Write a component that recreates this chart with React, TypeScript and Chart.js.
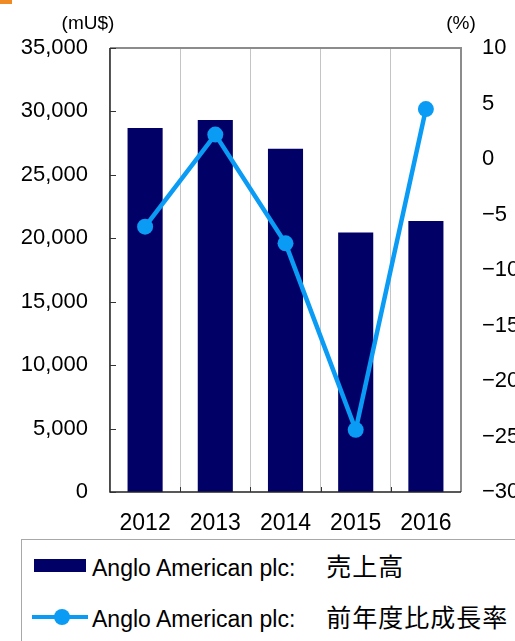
import React, { useEffect, useRef } from "react";
import { Chart, registerables } from "chart.js";

Chart.register(...registerables);

const categories = ["2012", "2013", "2014", "2015", "2016"];
const salesValues = [28700, 29330, 27050, 20450, 21370];
const growthValues = [-6.1, 2.2, -7.6, -24.4, 4.5];
const salesLabelLatin = "Anglo American plc:";
const salesLabelJa = "売上高";
const growthLabelJa = "前年度比成長率";
const leftUnit = "(mU$)";
const rightUnit = "(%)";
const leftAxis = { min: 0, max: 35000, step: 5000 };
const rightAxis = { min: -30, max: 10, step: 5 };

const BAR_COLOR = "#000066";
const LINE_COLOR = "#0A9BF5";
const FONT = "'Liberation Sans', Arial, 'Noto Sans CJK JP', sans-serif";

const framePlugin = {
  id: "frame",
  afterDraw(chart: any) {
    const { ctx, chartArea } = chart;
    const { left, right, top, bottom } = chartArea;
    const y = chart.scales.y;
    const x = chart.scales.x;
    ctx.save();
    ctx.lineWidth = 2;
    ctx.strokeStyle = "#8c8c8c";
    ctx.beginPath();
    ctx.moveTo(left, top);
    ctx.lineTo(right, top);
    ctx.lineTo(right, bottom);
    ctx.stroke();
    ctx.strokeStyle = "#222222";
    ctx.lineWidth = 1.5;
    ctx.beginPath();
    ctx.moveTo(left, top);
    ctx.lineTo(left, bottom);
    ctx.lineTo(right, bottom);
    ctx.stroke();
    ctx.lineWidth = 1;
    ctx.strokeStyle = "#333333";
    ctx.beginPath();
    for (let v = leftAxis.min; v <= leftAxis.max; v += leftAxis.step) {
      const py = Math.round(y.getPixelForValue(v)) + 0.5;
      ctx.moveTo(left, py);
      ctx.lineTo(left + 6, py);
    }
    const n = categories.length;
    for (let i = 1; i < n; i++) {
      const px = Math.round((x.getPixelForValue(i - 1) + x.getPixelForValue(i)) / 2) + 0.5;
      ctx.moveTo(px, bottom);
      ctx.lineTo(px, bottom - 5);
    }
    ctx.stroke();
    ctx.fillStyle = "#000";
    ctx.font = "19px 'Liberation Sans', Arial, sans-serif";
    ctx.textBaseline = "middle";
    ctx.textAlign = "center";
    ctx.fillText(leftUnit, 88, 24);
    ctx.fillText(rightUnit, 461, 24);
    ctx.restore();
  },
};

export default function App() {
  const ref = useRef<HTMLCanvasElement>(null);
  useEffect(() => {
    if (!ref.current) return;
    const chart = new Chart(ref.current, {
      type: "bar",
      data: {
        labels: categories,
        datasets: [
          {
            type: "line",
            label: salesLabelLatin + " " + growthLabelJa,
            data: growthValues,
            yAxisID: "y1",
            borderColor: LINE_COLOR,
            backgroundColor: LINE_COLOR,
            borderWidth: 4.5,
            pointRadius: 8,
            pointBackgroundColor: LINE_COLOR,
            pointBorderWidth: 0,
            tension: 0,
            order: 0,
          } as any,
          {
            type: "bar",
            label: salesLabelLatin + " " + salesLabelJa,
            data: salesValues,
            yAxisID: "y",
            backgroundColor: BAR_COLOR,
            categoryPercentage: 1,
            barPercentage: 0.5,
            order: 1,
          },
        ],
      },
      options: {
        responsive: false,
        animation: false,
        layout: { padding: { top: 48, left: 0, right: 0, bottom: 0 } },
        plugins: { legend: { display: false }, tooltip: { enabled: false } },
        scales: {
          x: {
            offset: true,
            grid: { offset: true, color: "#c4c4c4", drawTicks: false, lineWidth: 1 },
            border: { display: false },
            ticks: { color: "#000", font: { family: FONT, size: 23 }, padding: 18 },
            afterFit: (s: any) => { s.height = 149; },
          },
          y: {
            position: "left",
            min: leftAxis.min,
            max: leftAxis.max,
            grid: { display: false, drawTicks: false },
            border: { display: false },
            ticks: {
              stepSize: leftAxis.step,
              color: "#000",
              padding: 22,
              font: { family: FONT, size: 22 },
              callback: (v: any) => Number(v).toLocaleString("en-US"),
            },
            afterFit: (s: any) => { s.width = 110; },
          },
          y1: {
            position: "right",
            min: rightAxis.min,
            max: rightAxis.max,
            grid: { display: false, drawTicks: false },
            border: { display: false },
            ticks: {
              stepSize: rightAxis.step,
              color: "#000",
              padding: 21,
              font: { family: FONT, size: 22 },
              callback: (v: any) => String(v).replace("-", "\u2212"),
            },
            afterFit: (s: any) => { s.width = 54; },
          },
        },
      },
      plugins: [framePlugin],
    });
    return () => chart.destroy();
  }, []);

  const textStyle: React.CSSProperties = {
    position: "absolute",
    left: 92,
    fontFamily: FONT,
    fontSize: 23,
    color: "#000",
    whiteSpace: "nowrap",
    lineHeight: "26px",
  };
  const jaStyle: React.CSSProperties = {
    fontFamily: "'Noto Sans CJK JP', sans-serif",
    fontSize: 25,
    marginLeft: 31,
    letterSpacing: 1,
    lineHeight: "26px",
  };

  return (
    <div style={{ position: "absolute", left: 0, top: 0, width: 515, height: 641, overflow: "hidden", background: "#fff" }}>
      <canvas ref={ref} width={515} height={641} style={{ position: "absolute", left: 0, top: 0 }} />
      <div style={{ position: "absolute", left: 0, top: 0, width: 12, height: 4, background: "#F08A24" }} />
      <div style={{ position: "absolute", left: 21, top: 539, width: 620, height: 200, border: "1px solid #a8a8a8", background: "#fff" }} />
      <div style={{ position: "absolute", left: 34, top: 559, width: 52, height: 13, background: BAR_COLOR }} />
      <div style={{ ...textStyle, top: 552 }}>
        {salesLabelLatin}
        <span style={jaStyle}>{salesLabelJa}</span>
      </div>
      <div style={{ position: "absolute", left: 32, top: 615, width: 56, height: 4, background: LINE_COLOR }} />
      <div style={{ position: "absolute", left: 54, top: 609, width: 16, height: 16, borderRadius: 8, background: LINE_COLOR }} />
      <div style={{ ...textStyle, top: 603 }}>
        {salesLabelLatin}
        <span style={jaStyle}>{growthLabelJa}</span>
      </div>
    </div>
  );
}
